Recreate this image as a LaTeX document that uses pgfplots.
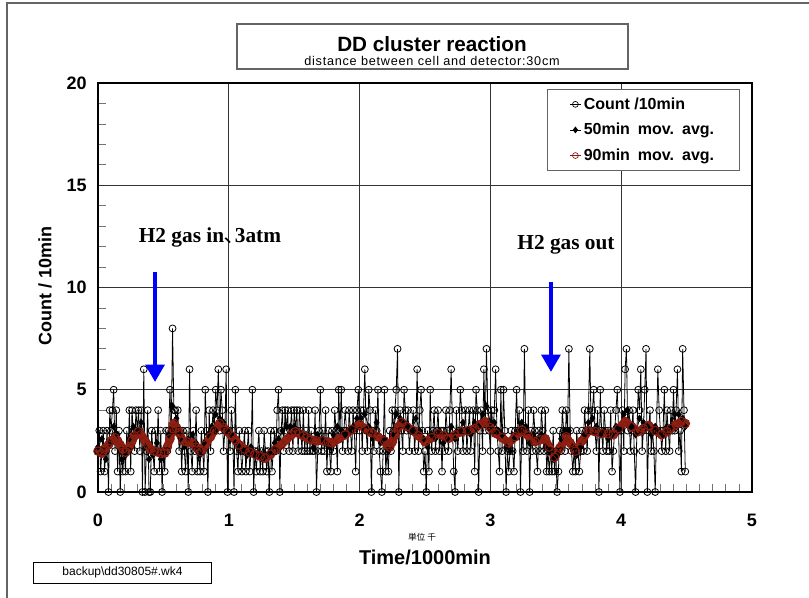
\documentclass[border=0pt]{standalone}
\usepackage{pgfplots}
\pgfplotsset{compat=1.18}
\usepackage{pgfplotstable}
\usepackage{fontspec}
\setmainfont{Liberation Sans}
\newfontfamily\serifb{Liberation Serif}
\newfontfamily\cjk{Noto Sans CJK JP}
\newfontfamily\spaced[LetterSpace=6]{Liberation Sans}
\usetikzlibrary{arrows.meta}
\definecolor{dred}{RGB}{165,35,20}
\definecolor{frm}{RGB}{100,100,100}

\pgfplotstableread{
x y
0.00 2.0
0.03 1.9
0.05 2.1
0.08 2.3
0.10 2.5
0.13 2.65
0.15 2.5
0.17 2.3
0.19 2.1
0.21 1.95
0.24 2.2
0.26 2.5
0.28 2.75
0.31 2.95
0.33 2.8
0.36 2.5
0.38 2.3
0.40 2.1
0.43 2.0
0.45 1.97
0.48 1.9
0.51 1.9
0.53 2.2
0.55 2.6
0.57 3.1
0.58 3.35
0.60 3.15
0.62 2.9
0.65 2.5
0.68 2.45
0.72 2.4
0.75 2.2
0.79 1.97
0.82 2.3
0.86 2.7
0.89 3.0
0.93 3.35
0.96 3.15
0.99 2.95
1.02 2.75
1.05 2.55
1.08 2.3
1.12 2.1
1.16 1.95
1.20 1.85
1.24 1.75
1.28 1.65
1.32 1.85
1.36 2.1
1.40 2.3
1.44 2.55
1.48 2.8
1.51 2.95
1.54 2.85
1.57 2.75
1.60 2.65
1.63 2.55
1.67 2.5
1.72 2.5
1.76 2.45
1.79 2.4
1.84 2.6
1.89 2.8
1.94 3.05
2.00 3.3
2.04 3.1
2.09 2.9
2.14 2.7
2.19 2.5
2.21 2.3
2.23 2.2
2.25 2.45
2.27 2.8
2.30 3.2
2.32 3.4
2.36 3.2
2.41 3.0
2.45 2.75
2.50 2.46
2.55 2.65
2.60 2.85
2.64 2.75
2.68 2.62
2.73 2.8
2.78 2.95
2.83 3.0
2.88 3.1
2.92 3.3
2.96 3.44
3.00 3.15
3.04 2.87
3.09 2.65
3.14 2.4
3.19 2.7
3.24 3.03
3.29 2.75
3.34 2.46
3.38 2.55
3.42 2.6
3.45 2.2
3.49 1.7
3.53 2.15
3.58 2.7
3.61 2.4
3.65 2.0
3.70 2.5
3.75 3.0
3.80 2.95
3.85 2.87
3.90 2.85
3.94 2.8
3.98 3.1
4.03 3.45
4.08 3.2
4.13 2.95
4.17 3.1
4.21 3.25
4.26 3.0
4.31 2.8
4.35 2.95
4.38 3.1
4.42 3.3
4.46 3.44
4.49 3.35
}\redavg

\pgfplotstableread{
x y
0.00 2.2
0.03 2.6
0.06 1.6
0.09 2.4
0.12 3.2
0.15 2.8
0.18 1.6
0.21 1.8
0.24 2.6
0.27 3.2
0.30 3.0
0.33 3.4
0.36 2.2
0.39 1.6
0.42 1.8
0.45 2.4
0.48 1.6
0.51 2.0
0.54 2.8
0.57 4.2
0.60 3.6
0.63 2.6
0.66 2.2
0.69 2.6
0.72 2.8
0.75 2.4
0.78 1.8
0.81 2.4
0.84 2.8
0.87 3.2
0.90 3.8
0.93 3.6
0.96 3.4
0.99 3.0
1.02 2.8
1.05 2.4
1.08 2.2
1.11 2.0
1.14 1.8
1.17 2.2
1.20 1.8
1.23 1.8
1.26 1.6
1.29 1.8
1.32 2.0
1.35 2.4
1.38 2.6
1.41 3.0
1.44 3.2
1.47 3.2
1.50 3.2
1.53 3.0
1.56 2.8
1.59 2.8
1.62 2.6
1.65 2.2
1.68 2.8
1.71 2.6
1.74 2.4
1.77 2.2
1.80 2.8
1.83 3.2
1.86 3.0
1.89 2.8
1.92 3.0
1.95 3.2
1.98 3.6
2.01 3.6
2.04 3.8
2.07 3.2
2.10 2.6
2.13 3.4
2.16 2.4
2.19 2.6
2.22 2.0
2.25 2.8
2.28 3.8
2.31 3.6
2.34 3.4
2.37 3.2
2.40 3.0
2.43 3.6
2.46 3.0
2.49 2.6
2.52 2.2
2.55 2.8
2.58 2.6
2.61 3.0
2.64 2.4
2.67 2.6
2.70 3.2
2.73 2.6
2.76 3.0
2.79 3.4
2.82 3.0
2.85 2.8
2.88 3.4
2.91 3.2
2.94 3.8
2.97 4.2
3.00 3.4
3.03 3.4
3.06 3.0
3.09 2.8
3.12 2.2
3.15 2.0
3.18 2.6
3.21 3.0
3.24 3.4
3.27 3.2
3.30 2.4
3.33 2.8
3.36 2.6
3.39 2.8
3.42 2.2
3.45 2.0
3.48 1.6
3.51 1.8
3.54 2.6
3.57 3.0
3.60 3.0
3.63 2.2
3.66 1.8
3.69 2.2
3.72 2.8
3.75 3.4
3.78 3.6
3.81 3.2
3.84 2.8
3.87 3.0
3.90 2.6
3.93 2.8
3.96 3.2
3.99 3.0
4.02 3.8
4.05 4.0
4.08 3.2
4.11 2.8
4.14 3.6
4.17 3.4
4.20 3.2
4.23 2.8
4.26 3.2
4.29 3.0
4.32 2.8
4.35 3.2
4.38 3.2
4.41 3.8
4.44 3.8
4.47 3.6
4.49 3.2
}\fiftyavg

\begin{document}
\begin{tikzpicture}[x=0.75pt,y=0.75pt]
\useasboundingbox (0,0) rectangle (809,597);
\draw[frm,line width=0.8pt] (7,-5) -- (7,594) -- (815,594);
% title box
\draw[frm,line width=1pt,fill=white] (237,528) rectangle (628,573);
\node[font=\bfseries\fontsize{15.5}{16}\selectfont] at (432,553) {DD cluster reaction};
\node[font=\spaced\fontsize{9.5}{10}\selectfont] at (432,536.5) {distance between cell and detector:30cm};
% file box
\node[draw=black,line width=0.7pt,minimum width=134pt,minimum height=15.75pt,inner sep=0pt,font=\fontsize{9}{10}\selectfont] at (122.5,24.5) {backup\textbackslash dd30805\#.wk4};
% unit note
\node[font=\cjk\fontsize{6.5}{7}\selectfont] at (422,60) {単位 千};

\begin{axis}[
  at={(73.5pt,78.75pt)}, anchor=south west,
  scale only axis, width=490.5pt, height=306.75pt,
  xmin=0, xmax=5, ymin=0, ymax=20,
  xtick={0,1,2,3,4,5}, ytick={0,5,10,15,20},
  minor x tick num=9, minor y tick num=4,
  tick pos=left, tick align=inside,
  major tick length=0pt, minor tick length=6pt,
  minor tick style={black!55,line width=0.6pt},
  grid=major, major grid style={black!80,line width=0.6pt},
  axis line style={line width=2.2pt},
  clip=false,
  /pgf/number format/assume math mode=true,
  ticklabel style={font=\bfseries\fontsize{13.5}{14}\selectfont},
  xticklabel style={anchor=center, yshift=-21pt},
  yticklabel style={anchor=east, xshift=-5pt},
  xlabel={Time/1000min},
  ylabel={Count / 10min},
  xlabel style={font=\bfseries\fontsize{15}{16}\selectfont, at={(axis description cs:0.5,-0.159)}, anchor=center},
  ylabel style={font=\bfseries\fontsize{13.5}{14}\selectfont, at={(axis description cs:-0.081,0.504)}, anchor=center},
  legend style={at={(rel axis cs:0.9817,0.9853)}, anchor=north east, draw=frm, line width=0.8pt, fill=white,
    font=\bfseries\fontsize{12}{13}\selectfont, inner xsep=17pt, inner ysep=4pt, row sep=5pt},
  legend cell align=left,
  legend image code/.code={\draw[#1, line width=0.5pt, mark size=2.2pt, mark repeat=2, mark phase=2] plot coordinates {(0pt,0pt)(4pt,0pt)(8pt,0pt)};},
]
\addplot[black, line width=0.6pt, mark=o, mark size=2.6pt] coordinates {
(0.00,2)(0.01,3)(0.02,1)(0.03,2)(0.04,3)(0.05,1)(0.06,2)(0.07,3)(0.08,0)(0.09,4)
(0.10,3)(0.11,4)(0.12,5)(0.13,2)(0.14,4)(0.15,1)(0.16,3)(0.17,0)(0.18,2)(0.19,1)
(0.20,2)(0.21,1)(0.22,3)(0.23,2)(0.24,4)(0.25,1)(0.26,4)(0.27,3)(0.28,2)(0.29,4)
(0.30,3)(0.31,4)(0.32,2)(0.33,4)(0.34,0)(0.35,6)(0.36,0)(0.37,2)(0.38,4)(0.39,0)
(0.40,0)(0.41,3)(0.42,2)(0.43,1)(0.44,3)(0.45,2)(0.46,4)(0.47,1)(0.48,3)(0.49,0)
(0.50,2)(0.51,1)(0.52,3)(0.53,2)(0.54,3)(0.55,5)(0.56,3)(0.57,8)(0.58,4)(0.59,4)
(0.60,3)(0.61,4)(0.62,2)(0.63,3)(0.64,1)(0.65,3)(0.66,2)(0.67,1)(0.68,3)(0.69,0)
(0.70,6)(0.71,2)(0.72,1)(0.73,3)(0.74,2)(0.75,4)(0.76,1)(0.77,2)(0.78,1)(0.79,3)
(0.80,2)(0.81,1)(0.82,5)(0.83,3)(0.84,0)(0.85,4)(0.86,2)(0.87,3)(0.88,4)(0.89,3)
(0.90,5)(0.91,4)(0.92,6)(0.93,3)(0.94,5)(0.95,4)(0.96,2)(0.97,3)(0.98,6)(0.99,0)
(1.00,3)(1.01,2)(1.02,4)(1.03,3)(1.04,0)(1.05,5)(1.06,2)(1.07,1)(1.08,3)(1.09,2)
(1.10,1)(1.11,2)(1.12,3)(1.13,1)(1.14,2)(1.15,3)(1.16,1)(1.17,2)(1.18,5)(1.19,0)
(1.20,2)(1.21,1)(1.22,2)(1.23,3)(1.24,1)(1.25,2)(1.26,1)(1.27,3)(1.28,2)(1.29,1)
(1.30,2)(1.31,0)(1.32,3)(1.33,1)(1.34,2)(1.35,3)(1.36,2)(1.37,4)(1.38,5)(1.39,0)
(1.40,3)(1.41,4)(1.42,2)(1.43,4)(1.44,3)(1.45,4)(1.46,2)(1.47,3)(1.48,4)(1.49,2)
(1.50,4)(1.51,3)(1.52,4)(1.53,2)(1.54,4)(1.55,3)(1.56,2)(1.57,4)(1.58,2)(1.59,3)
(1.60,2)(1.61,4)(1.62,2)(1.63,3)(1.64,2)(1.65,2)(1.66,4)(1.67,0)(1.68,2)(1.69,3)
(1.70,5)(1.71,2)(1.72,3)(1.73,2)(1.74,4)(1.75,1)(1.76,3)(1.77,2)(1.78,1)(1.79,3)
(1.80,2)(1.81,4)(1.82,3)(1.83,1)(1.84,5)(1.85,3)(1.86,5)(1.87,2)(1.88,3)(1.89,4)
(1.90,3)(1.91,2)(1.92,4)(1.93,3)(1.94,2)(1.95,4)(1.96,3)(1.97,1)(1.98,4)(1.99,5)
(2.00,3)(2.01,4)(2.02,2)(2.03,4)(2.04,6)(2.05,3)(2.06,2)(2.07,5)(2.08,4)(2.09,0)
(2.10,3)(2.11,2)(2.12,4)(2.13,3)(2.14,5)(2.15,2)(2.16,1)(2.17,0)(2.18,2)(2.19,5)
(2.20,1)(2.21,2)(2.22,1)(2.23,3)(2.24,2)(2.25,4)(2.26,3)(2.27,4)(2.28,5)(2.29,7)
(2.30,0)(2.31,4)(2.32,3)(2.33,2)(2.34,5)(2.35,4)(2.36,3)(2.37,4)(2.38,2)(2.39,3)
(2.40,3)(2.41,4)(2.42,2)(2.43,3)(2.44,6)(2.45,2)(2.46,4)(2.47,5)(2.48,3)(2.49,1)
(2.50,2)(2.51,0)(2.52,3)(2.53,1)(2.54,5)(2.55,2)(2.56,3)(2.57,4)(2.58,2)(2.59,3)
(2.60,4)(2.61,2)(2.62,3)(2.63,1)(2.64,3)(2.65,2)(2.66,4)(2.67,3)(2.68,2)(2.69,4)
(2.70,6)(2.71,3)(2.72,1)(2.73,0)(2.74,4)(2.75,2)(2.76,3)(2.77,5)(2.78,4)(2.79,2)
(2.80,3)(2.81,4)(2.82,2)(2.83,3)(2.84,4)(2.85,2)(2.86,3)(2.87,4)(2.88,1)(2.89,5)
(2.90,4)(2.91,0)(2.92,3)(2.93,4)(2.94,2)(2.95,6)(2.96,3)(2.97,7)(2.98,4)(2.99,3)
(3.00,2)(3.01,4)(3.02,3)(3.03,4)(3.04,6)(3.05,3)(3.06,2)(3.07,1)(3.08,5)(3.09,2)
(3.10,5)(3.11,3)(3.12,0)(3.13,2)(3.14,1)(3.15,2)(3.16,3)(3.17,2)(3.18,1)(3.19,3)
(3.20,5)(3.21,3)(3.22,4)(3.23,0)(3.24,3)(3.25,2)(3.26,7)(3.27,3)(3.28,2)(3.29,4)
(3.30,0)(3.31,3)(3.32,2)(3.33,4)(3.34,3)(3.35,2)(3.36,1)(3.37,3)(3.38,2)(3.39,4)
(3.40,3)(3.41,2)(3.42,4)(3.43,1)(3.44,2)(3.45,1)(3.46,2)(3.47,1)(3.48,3)(3.49,1)
(3.50,2)(3.51,0)(3.52,1)(3.53,3)(3.54,2)(3.55,4)(3.56,3)(3.57,2)(3.58,4)(3.59,3)
(3.60,7)(3.61,3)(3.62,2)(3.63,1)(3.64,2)(3.65,1)(3.66,3)(3.67,2)(3.68,1)(3.69,2)
(3.70,3)(3.71,2)(3.72,4)(3.73,3)(3.74,2)(3.75,4)(3.76,7)(3.77,3)(3.78,4)(3.79,5)
(3.80,3)(3.81,2)(3.82,4)(3.83,0)(3.84,5)(3.85,3)(3.86,2)(3.87,4)(3.88,3)(3.89,2)
(3.90,3)(3.91,2)(3.92,4)(3.93,1)(3.94,2)(3.95,3)(3.96,4)(3.97,5)(3.98,3)(3.99,0)
(4.00,3)(4.01,4)(4.02,2)(4.03,6)(4.04,7)(4.05,3)(4.06,4)(4.07,2)(4.08,3)(4.09,4)
(4.10,2)(4.11,0)(4.12,3)(4.13,5)(4.14,4)(4.15,6)(4.16,2)(4.17,3)(4.18,5)(4.19,7)
(4.20,0)(4.21,3)(4.22,4)(4.23,2)(4.24,3)(4.25,2)(4.26,0)(4.27,3)(4.28,6)(4.29,4)
(4.30,3)(4.31,2)(4.32,3)(4.33,5)(4.34,2)(4.35,4)(4.36,3)(4.37,2)(4.38,4)(4.39,3)
(4.40,5)(4.41,3)(4.42,4)(4.43,6)(4.44,2)(4.45,3)(4.46,1)(4.47,7)(4.48,4)(4.49,1)
};
\addlegendentry{Count /10min}
\addplot[black, line width=0.6pt, mark=diamond*, mark size=2.4pt] table[x=x,y=y] {\fiftyavg};
\addlegendentry{50min\enspace mov.\enspace avg.}
\addplot[forget plot, dred!90!black, line width=6pt, line join=round, line cap=round] table[x=x,y=y] {\redavg};
\addplot[dred!80!black, line width=0.8pt, mark=o, mark size=3.2pt] table[x=x,y=y] {\redavg};
\addlegendentry{90min\enspace mov.\enspace avg.}

\draw[blue, line width=3pt, -{Triangle[width=14pt,length=13pt]}] (axis cs:0.436,10.76) -- (axis cs:0.436,5.38);
\draw[blue, line width=3pt, -{Triangle[width=14pt,length=13pt]}] (axis cs:3.463,10.27) -- (axis cs:3.463,5.87);
\node[font=\serifb\bfseries\fontsize{16}{17}\selectfont] at (axis cs:0.856,12.47) {H2 gas in{\cjk\mdseries ､}3atm};
\node[font=\serifb\bfseries\fontsize{16}{17}\selectfont] at (axis cs:3.578,12.08) {H2 gas out};
\end{axis}
\end{tikzpicture}
\end{document}
